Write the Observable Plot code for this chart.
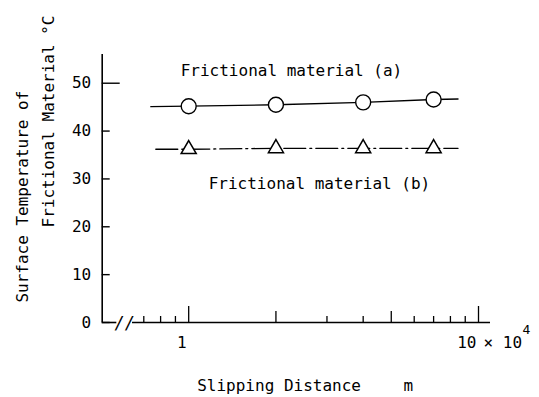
<!DOCTYPE html>
<html>
<head>
<meta charset="utf-8">
<script src="https://cdn.jsdelivr.net/npm/d3@7"></script>
<script src="https://cdn.jsdelivr.net/npm/@observablehq/plot@0.6"></script>
<style>
  html, body { margin: 0; padding: 0; background: #fff; }
  svg { display: block; }
</style>
</head>
<body>
<div id="chart"></div>
<script>
// Slipping distance (×10^4 m) at which temperatures were measured
const distance = [1, 2, 4, 7];
// Surface temperature (°C)
const materialA = [45.2, 45.5, 46.0, 46.6];
const materialB = [36.2, 36.4, 36.4, 36.4];
// Extent of drawn connecting lines
const lineA = [{x: 0.74, y: 45.1}, {x: 1, y: 45.2}, {x: 2, y: 45.5}, {x: 4, y: 46.0}, {x: 7, y: 46.6}, {x: 8.5, y: 46.7}];
const lineB = [{x: 0.77, y: 36.2}, {x: 1, y: 36.2}, {x: 2, y: 36.4}, {x: 4, y: 36.4}, {x: 7, y: 36.4}, {x: 8.5, y: 36.4}];
// Axis ticks
const yTicks = [0, 10, 20, 30, 40];
const yTopTick = [50];
const yLabels = [0, 10, 20, 30, 40, 50];
const xLongTicks = [1, 10];
const xMidTicks = [2, 5];
const xMinorTicks = [0.7, 0.8, 0.9, 3, 4, 6, 7, 8, 9];
const xLabels = [1, 10];
const xDomain = [0.503, 11.0];
const yDomain = [0, 56];
const axisBreak = [0.565, 0.64];

const FONT = "DejaVu Sans Mono";
const FS = 16;

const ptsA = distance.map((d, i) => ({x: d, y: materialA[i]}));
const ptsB = distance.map((d, i) => ({x: d, y: materialB[i]}));

const chart = Plot.plot({
  width: 539,
  height: 397,
  marginLeft: 101.7,
  marginRight: 49,
  marginTop: 54,
  marginBottom: 75,
  style: {background: "#fff", fontFamily: FONT, fontSize: FS + "px", color: "#000"},
  x: {type: "log", domain: xDomain, axis: null},
  y: {domain: yDomain, axis: null},
  marks: [
    // y axis line
    Plot.ruleX([xDomain[0]], {y1: yDomain[0], y2: yDomain[1], stroke: "#000", strokeWidth: 1.6}),
    // x axis line with break
    Plot.ruleY([0], {x1: xDomain[0], x2: axisBreak[0], stroke: "#000", strokeWidth: 1.6}),
    Plot.ruleY([0], {x1: axisBreak[1], x2: xDomain[1], stroke: "#000", strokeWidth: 1.4}),
    Plot.text([{x: Math.sqrt(axisBreak[0] * axisBreak[1]), y: 0, t: "//"}], {
      x: "x", y: "y", text: "t", fontSize: 17, fontStyle: "italic", fill: "#000", fontFamily: FONT, dy: 1
    }),
    // y ticks (inward)
    Plot.axisY({ticks: yTicks, tickSize: -8, tickFormat: () => "", label: null, strokeWidth: 1.4}),
    Plot.axisY({ticks: yTopTick, tickSize: -18, tickFormat: () => "", label: null, strokeWidth: 1.4}),
    Plot.axisY({ticks: yLabels, tickSize: 0, tickPadding: 11, label: null, fontSize: FS, fontFamily: FONT}),
    // x ticks (inward)
    Plot.axisX({ticks: xLongTicks, tickSize: -16, tickFormat: () => "", label: null, strokeWidth: 1.3}),
    Plot.axisX({ticks: xMidTicks, tickSize: -11, tickFormat: () => "", label: null, strokeWidth: 1.3}),
    Plot.axisX({ticks: xMinorTicks, tickSize: -6, tickFormat: () => "", label: null, strokeWidth: 1.3}),
    Plot.text(xLabels, {x: d => d, y: 0, text: d => String(d), textAnchor: "end", dx: -2, dy: 20, fontSize: FS, fontFamily: FONT}),
    Plot.text(["× 10"], {frameAnchor: "bottom-right", textAnchor: "start", lineAnchor: "middle", dx: -7, dy: 20, fontSize: FS, fontFamily: FONT}),
    Plot.text(["4"], {frameAnchor: "bottom-right", textAnchor: "start", lineAnchor: "middle", dx: 32, dy: 7, fontSize: 13, fontFamily: FONT}),
    // axis titles
    Plot.text(["Slipping Distance"], {frameAnchor: "bottom-left", textAnchor: "start", lineAnchor: "middle", dx: 95, dy: 63, fontSize: FS, fontFamily: FONT}),
    Plot.text(["m"], {frameAnchor: "bottom-left", textAnchor: "middle", lineAnchor: "middle", dx: 306, dy: 63, fontSize: FS, fontFamily: FONT}),
    Plot.text([{y: 26.3, t: "Surface Temperature of"}], {frameAnchor: "left", y: "y", text: "t", rotate: -90, textAnchor: "middle", lineAnchor: "middle", dx: -79.7, fontSize: FS, fontFamily: FONT}),
    Plot.text([{y: 42.0, t: "Frictional Material °C"}], {frameAnchor: "left", y: "y", text: "t", rotate: -90, textAnchor: "middle", lineAnchor: "middle", dx: -53.7, fontSize: FS, fontFamily: FONT}),
    // series lines
    Plot.line(lineA, {x: "x", y: "y", stroke: "#000", strokeWidth: 1.3}),
    Plot.line(lineB, {x: "x", y: "y", stroke: "#000", strokeWidth: 1.3, strokeDasharray: "22,4,2,4"}),
    // markers
    Plot.dot(ptsA, {x: "x", y: "y", r: 7.5, symbol: "circle", fill: "#fff", stroke: "#000", strokeWidth: 1.4}),
    Plot.dot(ptsB, {x: "x", y: "y", r: 5.6, symbol: "triangle", fill: "#fff", stroke: "#000", strokeWidth: 1.5}),
    // series labels
    Plot.text(["Frictional material (a)"], {frameAnchor: "top-left", textAnchor: "start", lineAnchor: "middle", dx: 78.5, dy: 16, fontSize: FS, fontFamily: FONT}),
    Plot.text(["Frictional material (b)"], {frameAnchor: "top-left", textAnchor: "start", lineAnchor: "middle", dx: 106.5, dy: 129, fontSize: FS, fontFamily: FONT})
  ]
});
document.getElementById("chart").appendChild(chart);
</script>
</body>
</html>
